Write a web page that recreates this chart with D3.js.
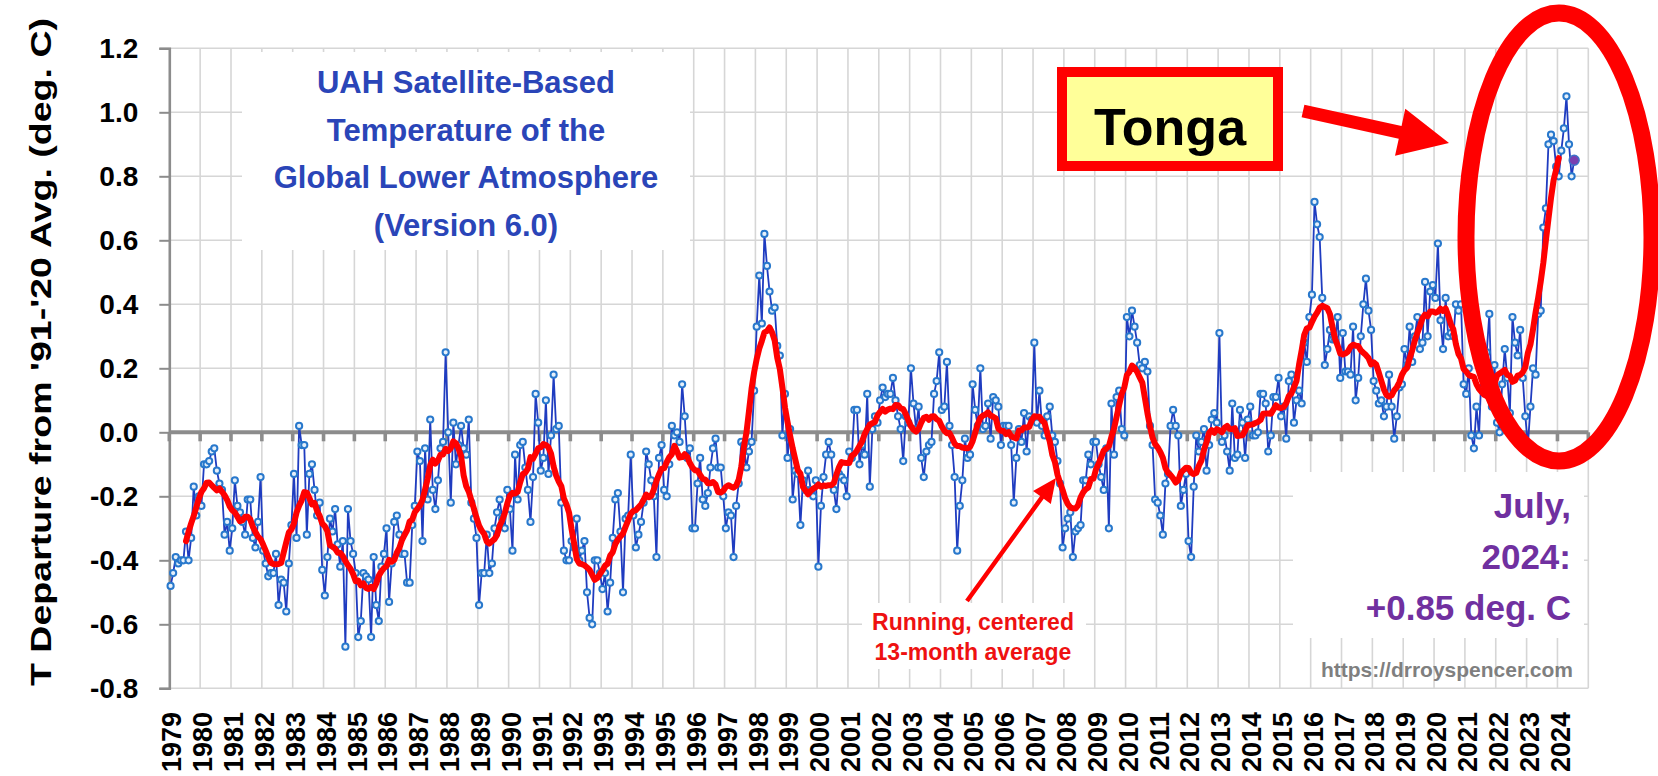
<!DOCTYPE html>
<html>
<head>
<meta charset="utf-8">
<script src="https://cdn.jsdelivr.net/npm/d3@7"></script>
<style>
  body { margin: 0; background: #ffffff; }
  svg { display: block; font-family: "Liberation Sans", Arial, sans-serif; }
</style>
</head>
<body>
<svg id="chart" width="1658" height="776"></svg>
<script>
// ---------------- DATA ----------------
const startYear = 1979;
const yearLabels = d3.range(1979, 2025).map(String);           // category tick labels
const yTicks = [-0.8, -0.6, -0.4, -0.2, 0.0, 0.2, 0.4, 0.6, 0.8, 1.0, 1.2];

// Monthly global lower-troposphere anomalies (deg C), Jan 1979 onward
const anom1979to1988 = [
  -0.48,-0.44,-0.39,-0.41,-0.40,-0.40,-0.31,-0.40,-0.33,-0.17,-0.26,-0.20,
  -0.23,-0.10,-0.10,-0.09,-0.06,-0.05,-0.12,-0.16,-0.18,-0.32,-0.28,-0.37,
  -0.30,-0.15,-0.23,-0.25,-0.28,-0.32,-0.21,-0.21,-0.33,-0.36,-0.28,-0.14,
  -0.37,-0.41,-0.45,-0.44,-0.44,-0.38,-0.54,-0.46,-0.47,-0.56,-0.41,-0.29,
  -0.13,-0.33, 0.02,-0.04,-0.04,-0.32,-0.13,-0.10,-0.18,-0.26,-0.22,-0.43,
  -0.51,-0.39,-0.27,-0.31,-0.24,-0.35,-0.42,-0.34,-0.67,-0.24,-0.34,-0.38,
  -0.44,-0.64,-0.59,-0.44,-0.45,-0.46,-0.64,-0.39,-0.54,-0.59,-0.42,-0.38,
  -0.30,-0.53,-0.41,-0.28,-0.26,-0.32,-0.38,-0.38,-0.47,-0.47,-0.29,-0.23,
  -0.06,-0.09,-0.34,-0.05,-0.21, 0.04,-0.18,-0.24,-0.15,-0.05,-0.03, 0.25,
   0.00,-0.22, 0.03,-0.10,-0.04, 0.02,-0.05,-0.07, 0.04,-0.22,-0.27,-0.33
];
const anom1989to1998 = [
  -0.54,-0.44,-0.44,-0.32,-0.44,-0.41,-0.30,-0.25,-0.21,-0.27,-0.30,-0.18,
  -0.24,-0.37,-0.07,-0.21,-0.04,-0.03,-0.11,-0.18,-0.28,-0.14, 0.12, 0.03,
  -0.12,-0.08, 0.10,-0.13,-0.01, 0.18, 0.01, 0.02,-0.22,-0.37,-0.40,-0.40,
  -0.34,-0.36,-0.27,-0.40,-0.37,-0.34,-0.50,-0.58,-0.60,-0.40,-0.40,-0.44,
  -0.49,-0.44,-0.56,-0.47,-0.33,-0.21,-0.19,-0.31,-0.50,-0.27,-0.26,-0.07,
  -0.26,-0.36,-0.32,-0.28,-0.22,-0.06,-0.10,-0.15,-0.20,-0.39,-0.08,-0.04,
  -0.18,-0.20,-0.10, 0.02,-0.01, 0.00,-0.03, 0.15, 0.05,-0.08,-0.05,-0.30,
  -0.30,-0.16,-0.08,-0.21,-0.23,-0.19,-0.11,-0.05,-0.02,-0.11,-0.11,-0.20,
  -0.30,-0.25,-0.26,-0.39,-0.23,-0.16,-0.03,-0.04,-0.11,-0.06,-0.03, 0.13,
   0.33, 0.49, 0.34, 0.62, 0.52, 0.44, 0.38, 0.39, 0.27, 0.24,-0.01, 0.12
];
const anom1999to2008 = [
  -0.08, 0.01,-0.21,-0.12,-0.13,-0.29,-0.15,-0.18,-0.12,-0.18,-0.20,-0.15,
  -0.42,-0.23,-0.14,-0.07,-0.03,-0.07,-0.18,-0.24,-0.13,-0.14,-0.15,-0.20,
  -0.06,-0.08, 0.07, 0.07,-0.10,-0.04,-0.07, 0.12,-0.17, 0.01, 0.05, 0.03,
   0.10, 0.14, 0.11, 0.12, 0.12, 0.17, 0.10, 0.05, 0.01,-0.09, 0.05, 0.03,
   0.20, 0.09, 0.01, 0.08,-0.08,-0.14,-0.06,-0.04,-0.03, 0.12, 0.16, 0.25,
   0.07, 0.08, 0.22, 0.02,-0.04,-0.14,-0.37,-0.23,-0.15,-0.02,-0.08,-0.07,
   0.15, 0.07, 0.02, 0.20, 0.01, 0.02, 0.09,-0.02, 0.11, 0.10, 0.08,-0.04,
   0.02, 0.02, 0.02,-0.04,-0.22,-0.08, 0.01,-0.03, 0.06,-0.06, 0.05, 0.04,
   0.28, 0.03, 0.13, 0.02,-0.01, 0.05, 0.08,-0.01,-0.03,-0.09,-0.16,-0.36,
  -0.30,-0.27,-0.25,-0.39,-0.31,-0.30,-0.29,-0.15,-0.15,-0.07,-0.10,-0.03
];
const anom2009to2018 = [
  -0.03,-0.10,-0.14,-0.18,-0.05,-0.30, 0.09,-0.07, 0.11, 0.13, 0.01,-0.01,
   0.36, 0.30, 0.38, 0.33, 0.28, 0.21, 0.20, 0.22, 0.19, 0.02,-0.04,-0.21,
  -0.22,-0.26,-0.32,-0.16,-0.13, 0.02, 0.07, 0.02,-0.01,-0.23,-0.18,-0.13,
  -0.34,-0.39,-0.17,-0.01,-0.06,-0.03, 0.01,-0.12,-0.04, 0.04, 0.06, 0.03,
   0.31,-0.03,-0.01,-0.06,-0.12, 0.09,-0.08,-0.07, 0.07, 0.03,-0.08, 0.04,
   0.08,-0.01,-0.01, 0.00, 0.12, 0.12, 0.09,-0.06,-0.01, 0.11, 0.11, 0.17,
   0.05, 0.08,-0.02, 0.16, 0.18, 0.03, 0.10, 0.13, 0.09, 0.28, 0.22, 0.36,
   0.43, 0.72, 0.65, 0.61, 0.42, 0.21, 0.26, 0.32, 0.29, 0.29, 0.36, 0.17,
   0.31, 0.19, 0.19, 0.18, 0.33, 0.10, 0.17, 0.30, 0.40, 0.48, 0.38, 0.32,
   0.16, 0.13, 0.09, 0.10, 0.05, 0.08, 0.18, 0.08,-0.02, 0.05, 0.14, 0.15
];
const anom2019to2024 = [
   0.26, 0.21, 0.33, 0.22, 0.30, 0.36, 0.26, 0.28, 0.47, 0.30, 0.44, 0.46,
   0.42, 0.59, 0.35, 0.26, 0.42, 0.30, 0.31, 0.30, 0.40, 0.38, 0.40, 0.15,
   0.12, 0.20,-0.01,-0.05, 0.08,-0.01, 0.20, 0.17, 0.25, 0.37, 0.08, 0.21,
   0.03, 0.00, 0.15, 0.26, 0.17, 0.06, 0.36, 0.28, 0.24, 0.32, 0.17, 0.05,
  -0.04, 0.08, 0.20, 0.18, 0.37, 0.38, 0.64, 0.70, 0.90, 0.93, 0.91, 0.83,
   0.80, 0.88, 0.95, 1.05, 0.90, 0.80, 0.85
];

const titleLines = ["UAH Satellite-Based", "Temperature of the", "Global Lower Atmosphere", "(Version 6.0)"];
const latestLines = ["July,", "2024:", "+0.85 deg. C"];
const avgLabelLines = ["Running, centered", "13-month average"];
const yAxisTitle = "T Departure from '91-'20 Avg. (deg. C)";
const annotationLabel = "Tonga";
const creditText = "https://drroyspencer.com";

// ---------------- BUILD ----------------
const monthly = [].concat(anom1979to1988, anom1989to1998, anom1999to2008, anom2009to2018, anom2019to2024)
  .map((v, i) => ({ k: i, v }));
// the chart's red curve: running, centered 13-month average of the monthly values
const running = [];
for (let i = 6; i + 6 < monthly.length; i++) {
  running.push({ k: i, v: d3.mean(monthly.slice(i - 6, i + 7), d => d.v) });
}

const svg = d3.select("#chart");
const nMonths = yearLabels.length * 12;          // 1979..2024 -> 552 month slots
const x = d3.scaleLinear().domain([0, nMonths]).range([169.3, 1588.3]);
const y = d3.scaleLinear().domain([-0.8, 1.2]).range([688.3, 48.3]);
const xm = k => x(k + 0.5);                       // points sit in the middle of each month slot
const yearPos = i => x(i * 12);

svg.append("rect").attr("width", 1658).attr("height", 776).attr("fill", "#ffffff");

// gridlines
const grid = svg.append("g").attr("stroke", "#d6d6d6").attr("stroke-width", 1.6);
grid.selectAll("line.h").data(yTicks.filter(t => t !== 0)).join("line")
  .attr("x1", x(0)).attr("x2", x(nMonths)).attr("y1", d => y(d)).attr("y2", d => y(d));
grid.selectAll("line.v").data(d3.range(1, yearLabels.length + 1)).join("line")
  .attr("x1", d => yearPos(d)).attr("x2", d => yearPos(d)).attr("y1", y(1.2)).attr("y2", y(-0.8));

// white backing boxes behind text blocks
svg.append("rect").attr("x", 242).attr("y", 52).attr("width", 448).attr("height", 198).attr("fill", "#fff");
svg.append("rect").attr("x", 1293).attr("y", 472).attr("width", 291).attr("height", 166).attr("fill", "#fff");
svg.append("rect").attr("x", 862).attr("y", 603).attr("width", 224).attr("height", 66).attr("fill", "#fff");

// left axis
const yAxis = d3.axisLeft(y).tickValues(yTicks).tickSize(10).tickPadding(21)
  .tickFormat(d => d.toFixed(1));
const gy = svg.append("g").attr("transform", `translate(${x(0)},0)`).call(yAxis);
gy.select(".domain").attr("stroke", "#8c8c8c").attr("stroke-width", 2.6);
gy.selectAll(".tick line").attr("stroke", "#8c8c8c").attr("stroke-width", 2);
gy.selectAll(".tick text").attr("font-size", 28).attr("font-weight", "bold").attr("fill", "#000")
  .attr("font-family", '"Liberation Sans", Arial, sans-serif');

// zero line with year ticks
svg.append("line").attr("x1", x(0)).attr("x2", x(nMonths)).attr("y1", y(0)).attr("y2", y(0))
  .attr("stroke", "#8c8c8c").attr("stroke-width", 4);
svg.append("g").selectAll("line").data(d3.range(0, yearLabels.length + 1)).join("line")
  .attr("x1", d => yearPos(d)).attr("x2", d => yearPos(d))
  .attr("y1", y(0)).attr("y2", y(0) + 9)
  .attr("stroke", "#8c8c8c").attr("stroke-width", 3.6);

// year labels
svg.append("g").selectAll("text").data(yearLabels).join("text")
  .attr("transform", (d, i) => `translate(${yearPos(i) + 2.4},712) rotate(-90)`)
  .attr("text-anchor", "end").attr("dy", "0.36em")
  .attr("font-size", 27).attr("font-weight", "bold").attr("fill", "#000")
  .text(d => d);

// y axis title
svg.append("text")
  .attr("transform", "translate(40,352) rotate(-90)")
  .attr("text-anchor", "middle").attr("dy", "0.36em")
  .attr("font-size", 30).attr("font-weight", "bold").attr("fill", "#000")
  .attr("textLength", 668).attr("lengthAdjust", "spacingAndGlyphs")
  .text(yAxisTitle);

// monthly series
svg.append("path").datum(monthly)
  .attr("fill", "none").attr("stroke", "#1f3cc0").attr("stroke-width", 1.8)
  .attr("d", d3.line().x(d => xm(d.k)).y(d => y(d.v)));
svg.append("g").selectAll("circle").data(monthly.slice(0, -1)).join("circle")
  .attr("cx", d => xm(d.k)).attr("cy", d => y(d.v)).attr("r", 3.1)
  .attr("fill", "#e6f0fa").attr("stroke", "#2878cc").attr("stroke-width", 2);

// running average
svg.append("path").datum(running)
  .attr("fill", "none").attr("stroke", "#ff0000").attr("stroke-width", 6)
  .attr("stroke-linejoin", "round").attr("stroke-linecap", "round")
  .attr("d", d3.line().x(d => xm(d.k)).y(d => y(d.v)));

// latest month highlighted
const last = monthly[monthly.length - 1];
svg.append("circle").attr("cx", xm(last.k)).attr("cy", y(last.v)).attr("r", 5)
  .attr("fill", "#7a3fb0").attr("stroke", "#3d72c8").attr("stroke-width", 1.4);

// title
svg.append("g").selectAll("text").data(titleLines).join("text")
  .attr("x", 466).attr("y", (d, i) => 93 + i * 47.5)
  .attr("text-anchor", "middle").attr("font-size", 31).attr("font-weight", "bold")
  .attr("fill", "#2a45b8").text(d => d);

// latest value text
svg.append("g").selectAll("text").data(latestLines).join("text")
  .attr("x", 1571).attr("y", (d, i) => 518 + i * 51)
  .attr("text-anchor", "end").attr("font-size", 35).attr("font-weight", "bold")
  .attr("fill", "#7030a0").text(d => d);

// credit
svg.append("text").attr("x", 1573).attr("y", 677).attr("text-anchor", "end")
  .attr("font-size", 21).attr("font-weight", "bold").attr("fill", "#7f7f7f").text(creditText);

// running average label + arrow
svg.append("g").selectAll("text").data(avgLabelLines).join("text")
  .attr("x", 973).attr("y", (d, i) => 630 + i * 30)
  .attr("text-anchor", "middle").attr("font-size", 23).attr("font-weight", "bold")
  .attr("fill", "#ee1111").text(d => d);

function arrow(x0, y0, x1, y1, shaftW, headL, headW, color) {
  const dx = x1 - x0, dy = y1 - y0, L = Math.hypot(dx, dy);
  const ux = dx / L, uy = dy / L, nx = -uy, ny = ux;
  const bx = x1 - ux * headL, by = y1 - uy * headL;
  const pts = [
    [x0 + nx * shaftW / 2, y0 + ny * shaftW / 2],
    [bx + nx * shaftW / 2, by + ny * shaftW / 2],
    [bx + nx * headW, by + ny * headW],
    [x1, y1],
    [bx - nx * headW, by - ny * headW],
    [bx - nx * shaftW / 2, by - ny * shaftW / 2],
    [x0 - nx * shaftW / 2, y0 - ny * shaftW / 2]
  ];
  svg.append("polygon").attr("points", pts.map(p => p.join(",")).join(" ")).attr("fill", color);
}
arrow(967, 601, 1056, 478, 4.5, 24, 11, "#ff0000");

// Tonga annotation
svg.append("rect").attr("x", 1062).attr("y", 72).attr("width", 216).attr("height", 94)
  .attr("fill", "#ffff99").attr("stroke", "#ff0000").attr("stroke-width", 10);
svg.append("text").attr("x", 1170).attr("y", 145).attr("text-anchor", "middle")
  .attr("font-size", 52).attr("font-weight", "bold").attr("fill", "#000").text(annotationLabel);
arrow(1303, 111, 1449, 143, 13, 50, 24, "#ff0000");
svg.append("ellipse").attr("cx", 1559).attr("cy", 237).attr("rx", 93).attr("ry", 224)
  .attr("fill", "none").attr("stroke", "#ff0000").attr("stroke-width", 17);
</script>
</body>
</html>
